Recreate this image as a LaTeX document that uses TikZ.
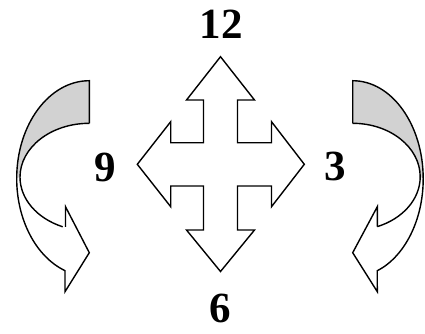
\documentclass[tikz,border=0pt]{standalone}
\usepackage{fontspec}
\setmainfont{Liberation Serif}
\definecolor{backgray}{RGB}{210,210,210}
\tikzset{
  outline/.style={draw=black,line width=1.4pt,line join=miter},
  lbl/.style={font=\fontsize{43}{43}\selectfont\bfseries,inner sep=0pt,anchor=base}
}
\begin{document}
\begin{tikzpicture}[x=1pt,y=-1pt]
\useasboundingbox (0,0) rectangle (425,333);
% ---- cross arrow ----
\draw[outline,fill=white] (220.5,56.7) -- (254.5,100) -- (237.5,100) -- (237.5,142.7) -- (271.5,142.7) -- (271.5,121.7) -- (304.3,164.3) -- (271.5,206.7) -- (271.5,186) -- (237.5,186) -- (237.5,230) -- (254.5,230) -- (220.5,271.5) -- (186.5,230) -- (203.5,230) -- (203.5,186) -- (170.7,186) -- (170.7,206.7) -- (137.3,164.3) -- (170.7,121.7) -- (170.7,142.7) -- (203.5,142.7) -- (203.5,100) -- (186.5,100) -- cycle;
% ---- left curved arrow ----
\fill[backgray] (89.3,80.7) arc[start angle=270,end angle=180,x radius=72.6,y radius=97.8] -- (20,177.1) arc[start angle=180,end angle=270,x radius=69.3,y radius=53.8] -- cycle;
\fill[white] (20,177.1) arc[start angle=180,end angle=112.6,x radius=69.3,y radius=53.8] -- (65.5,206.7) -- (89.3,252.7) -- (65,291.7) -- (65,270.6) arc[start angle=109.6,end angle=180,x radius=72.6,y radius=97.8] -- cycle;
\draw[outline] (89.3,123.3) -- (89.3,80.7) arc[start angle=270,end angle=109.6,x radius=72.6,y radius=97.8] -- (65,291.7) -- (89.3,252.7) -- (65.5,206.7) -- (65.5,226.8);
\draw[outline] (89.3,123.3) arc[start angle=270,end angle=112.6,x radius=69.3,y radius=53.8];
% ---- right curved arrow ----
\fill[backgray] (352.7,80.7) arc[start angle=270,end angle=360,x radius=70.5,y radius=98.1] -- (420.2,176.8) arc[start angle=360,end angle=270,x radius=67.5,y radius=53.5] -- cycle;
\fill[white] (420.2,176.8) arc[start angle=0,end angle=68.6,x radius=67.5,y radius=53.5] -- (377.3,206.7) -- (352.7,252.7) -- (377.3,291.7) -- (377.3,270.7) arc[start angle=69.6,end angle=0,x radius=70.5,y radius=98.1] -- cycle;
\draw[outline] (352.7,123.3) -- (352.7,80.7) arc[start angle=270,end angle=429.6,x radius=70.5,y radius=98.1] -- (377.3,291.7) -- (352.7,252.7) -- (377.3,206.7) -- (377.3,226.6);
\draw[outline] (352.7,123.3) arc[start angle=270,end angle=428.6,x radius=67.5,y radius=53.5];
% ---- labels ----
\node[lbl] (n12) at (221,38) {12};
\node[lbl] (n9) at (105.5,181) {9};
\node[lbl] (n3) at (335.5,180) {3};
\node[lbl] (n6) at (220.5,322) {6};
\end{tikzpicture}
\end{document}
